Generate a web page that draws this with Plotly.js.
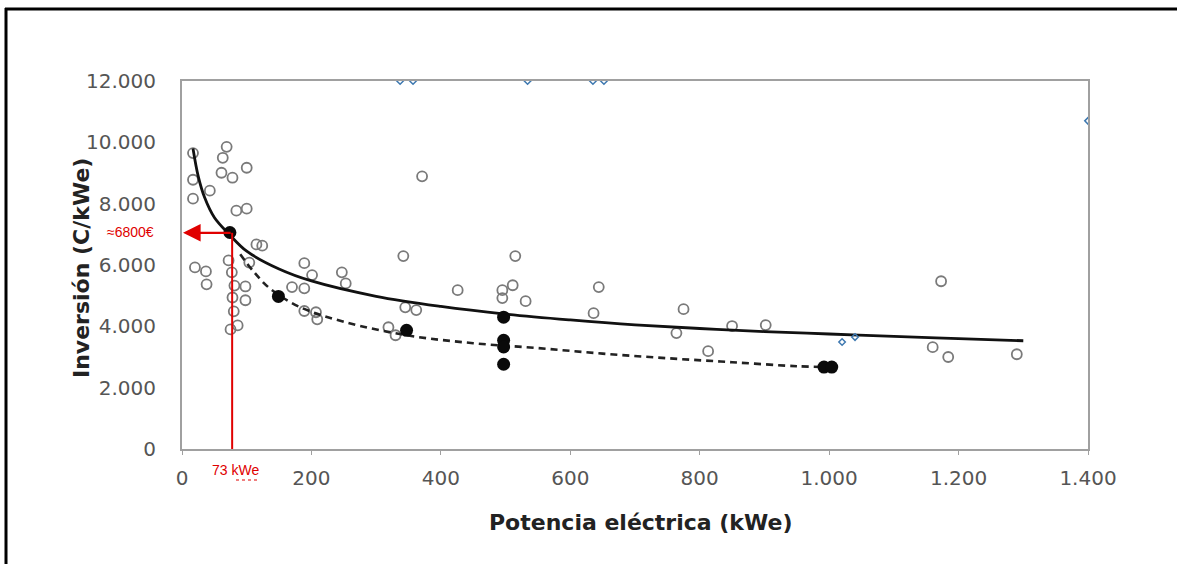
<!DOCTYPE html>
<html>
<head>
<meta charset="utf-8">
<script src="https://cdn.plot.ly/plotly-3.0.1.min.js"></script>
<style>html,body{margin:0;padding:0;background:#fff;}#chart{width:1177px;height:564px;}</style>
</head>
<body>
<div id="chart"></div>
<script>
// Hollow data points (kWe, €/kWe)
const openX = [17, 17, 17, 43, 69, 63, 61, 78, 100, 84, 100,
  20, 37, 38, 72, 77, 81, 78, 80, 86, 75, 98, 98, 115, 124, 104,
  189, 201, 170, 189, 189, 207, 209, 247, 253, 342, 345, 362, 319, 330, 371, 426,
  495, 495, 511, 515, 531,
  644, 636, 775, 764, 813, 850, 902, 1173, 1160, 1184, 1290];
const openY = [9650, 8780, 8163, 8423, 9854, 9496, 9008, 8846, 9171, 7772, 7837,
  5920, 5790, 5370, 6150, 5760, 5330, 4940, 4490, 4030, 3900, 5300, 4850, 6670, 6630, 6080,
  6060, 5670, 5280, 5240, 4500, 4460, 4230, 5760, 5400, 6290, 4620, 4530, 3970, 3710, 8890, 5180,
  5180, 4920, 5340, 6290, 4820,
  5280, 4430, 4560, 3780, 3190, 4010, 4040, 5470, 3320, 3000, 3090];

// Filled data points
const fillX = [74, 149, 347, 497, 497, 497, 497, 992, 1004];
const fillY = [7060, 4975, 3870, 4300, 3545, 3327, 2764, 2670, 2670];

// Blue partial markers (edge artefacts)
const blueX = [1020, 1040, 337, 357, 534, 635, 652, 1400];
const blueY = [3490, 3650, 12000, 12000, 12000, 12000, 12000, 10700];

// Solid trend curve
const trendX = [17, 25, 35, 50, 73, 100, 150, 200, 300, 400, 500, 600, 700, 800, 900, 1000, 1100, 1200, 1300];
const trendY = [9800, 8900, 8200, 7550, 7000, 6450, 5870, 5480, 4980, 4650, 4400, 4210, 4050, 3930, 3830, 3750, 3670, 3600, 3530];

// Dashed trend curve
const dashX = [90, 110, 135, 180, 250, 350, 450, 550, 650, 750, 850, 950, 1000];
const dashY = [6350, 5800, 5250, 4650, 4150, 3700, 3450, 3290, 3110, 2960, 2830, 2700, 2670];

// Annotation values
const markX = 77.5;
const markY = 7050;
const markText = '≈6800€';
const markXText = '73 <span style="text-decoration:none">kWe</span>';

const xTitle = 'Potencia eléctrica (kWe)';
const yTitle = 'Inversión (C/kWe)';

const xTicks = [0, 200, 400, 600, 800, 1000, 1200, 1400];
const yTicks = [0, 2000, 4000, 6000, 8000, 10000, 12000];

const traces = [
  {x: openX, y: openY, type: 'scatter', mode: 'markers', cliponaxis: true,
   marker: {symbol: 'circle-open', size: 10, color: '#7a7a7a', line: {width: 1.8, color: '#7a7a7a'}}, hoverinfo: 'skip'},
  {x: trendX, y: trendY, type: 'scatter', mode: 'lines', line: {color: '#111', width: 2.8, shape: 'spline'}, hoverinfo: 'skip'},
  {x: dashX, y: dashY, type: 'scatter', mode: 'lines', line: {color: '#222', width: 2.6, dash: '7px,5px', shape: 'spline'}, hoverinfo: 'skip'},
  {x: blueX, y: blueY, type: 'scatter', mode: 'markers', cliponaxis: true,
   marker: {symbol: 'diamond-open', size: 5, color: '#3d78b0', line: {width: 1.5, color: '#3d78b0'}}, hoverinfo: 'skip'},
  {x: fillX, y: fillY, type: 'scatter', mode: 'markers',
   marker: {symbol: 'circle', size: 13, color: '#0a0a0a'}, hoverinfo: 'skip'}
];

const fontTick = {family: 'DejaVu Sans', size: 20, color: '#555'};

// pixel -> paper helpers for frame decorations
const L = 182, R = 1088, T = 81, B = 449;
const px = v => (v - L) / (R - L);
const py = v => (B - v) / (B - T);

const layout = {
  width: 1177, height: 564,
  margin: {l: L, r: 1177 - R, t: T, b: 564 - B},
  paper_bgcolor: '#fff', plot_bgcolor: '#fff',
  showlegend: false,
  separators: ',.',
  xaxis: {
    range: [0, 1400], tickvals: xTicks, tickformat: ',', tickfont: fontTick,
    showgrid: false, zeroline: false, showline: true, linecolor: '#a0a0a0', linewidth: 2, mirror: true,
    ticks: 'outside', ticklen: 4, tickcolor: '#a0a0a0', ticklabelstandoff: 6
  },
  yaxis: {
    range: [0, 12000], tickvals: yTicks, tickformat: ',', tickfont: fontTick,
    showgrid: false, zeroline: false, showline: true, linecolor: '#a0a0a0', linewidth: 2, mirror: true,
    ticks: '', ticklabelstandoff: 20
  },
  shapes: [
    {type: 'line', xref: 'x', yref: 'y', x0: markX, x1: markX, y0: 0, y1: markY, line: {color: '#e00000', width: 2}},
    {type: 'line', xref: 'paper', yref: 'paper', x0: px(6), x1: px(6), y0: py(564), y1: py(8), line: {color: '#000', width: 3}},
    {type: 'line', xref: 'paper', yref: 'paper', x0: px(5), x1: px(1177), y0: py(9), y1: py(9), line: {color: '#000', width: 3}},
    {type: 'line', xref: 'paper', yref: 'paper', x0: px(236), x1: px(259), y0: py(480), y1: py(480), line: {color: '#e00000', width: 1.2, dash: 'dot'}}
  ],
  annotations: [
    {x: 0, y: markY, ax: markX, ay: markY, xref: 'x', yref: 'y', axref: 'x', ayref: 'y', text: '',
     showarrow: true, arrowhead: 2, arrowsize: 1.6, arrowwidth: 2.2, arrowcolor: '#e00000', standoff: 1},
    {x: px(130), y: py(232), xref: 'paper', yref: 'paper', xanchor: 'center', yanchor: 'middle', text: markText, showarrow: false,
     font: {family: 'Liberation Sans', size: 14, color: '#e00000'}},
    {x: px(235), y: py(470), xref: 'paper', yref: 'paper', xanchor: 'center', yanchor: 'middle', text: markXText, showarrow: false,
     font: {family: 'Liberation Sans', size: 14, color: '#e00000'}},
    {x: px(640), y: py(522), xref: 'paper', yref: 'paper', xanchor: 'center', yanchor: 'middle', text: xTitle, showarrow: false,
     font: {family: 'DejaVu Sans', size: 22, color: '#222', weight: 'bold'}},
    {x: px(81), y: py(268), xref: 'paper', yref: 'paper', xanchor: 'center', yanchor: 'middle', text: yTitle, showarrow: false, textangle: -90,
     font: {family: 'DejaVu Sans', size: 22, color: '#222', weight: 'bold'}}
  ]
};

Plotly.newPlot('chart', traces, layout, {staticPlot: true});
</script>
</body>
</html>
